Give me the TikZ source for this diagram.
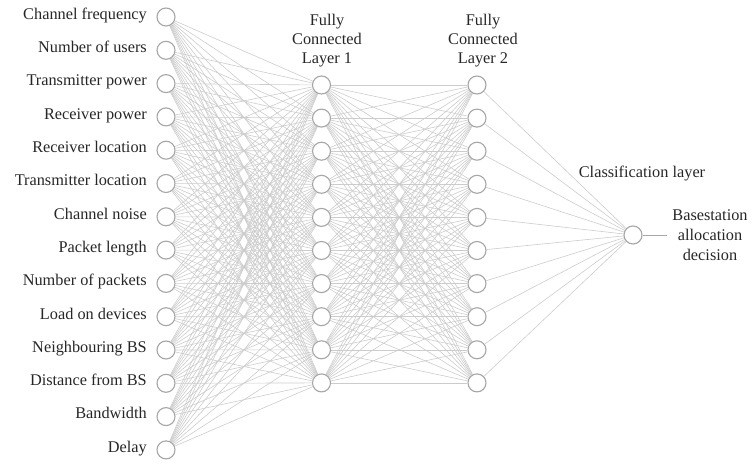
\documentclass[tikz,border=0pt]{standalone}
\usepackage{fontspec}
\setmainfont{Liberation Serif}
\pgfdeclarelayer{background}
\pgfsetlayers{background,main}
\begin{document}
\begin{tikzpicture}[x=1pt,y=-1pt,
  neuron/.style={circle,draw=gray!70,fill=white,minimum size=18pt,inner sep=0pt,line width=1.1pt},
  wire/.style={draw=gray!40,line width=0.6pt},
  lbl/.style={text=black!85,font=\fontsize{16.3}{19}\selectfont,inner sep=0pt}]
\useasboundingbox (0,0) rectangle (753,464);

% input layer with feature names
\foreach \t [count=\i] in {Channel frequency,Number of users,Transmitter power,Receiver power,Receiver location,Transmitter location,Channel noise,Packet length,Number of packets,Load on devices,Neighbouring BS,Distance from BS,Bandwidth,Delay}{
  \node[neuron] (in\i) at (166,{17+(\i-1)*33.3}) {};
  \node[lbl,anchor=mid east] (t\i) at (147,{17+(\i-1)*33.3}) {\t};
}

% two fully connected hidden layers
\foreach \j in {1,...,10}{
  \node[neuron] (h\j) at (321.5,{85+(\j-1)*33.1}) {};
  \node[neuron] (g\j) at (477,{85+(\j-1)*33.1}) {};
}

% classification output
\node[neuron] (out) at (633,235) {};
\coordinate (dec) at (667,235);

% connections, kept behind the neurons
\begin{pgfonlayer}{background}
\foreach \i in {1,...,14}{
  \foreach \j in {1,...,10}{
    \draw[wire] (in\i) -- (h\j);
  }
}
\foreach \i in {1,...,10}{
  \foreach \j in {1,...,10}{
    \draw[wire] (h\i) -- (g\j);
  }
  \draw[wire] (g\i) -- (out);
}
\end{pgfonlayer}
\draw[draw=gray!70,line width=0.8pt] (out) -- (dec);

% layer captions
\node[lbl,align=center] (cap1) at (327,41) {Fully\\Connected\\Layer 1};
\node[lbl,align=center] (cap2) at (483,41) {Fully\\Connected\\Layer 2};
\node[lbl] (cap3) at (642,174) {Classification layer};
\node[lbl,align=center,font=\fontsize{16.3}{20}\selectfont] (cap4) at (710,235) {Basestation\\allocation\\decision};
\end{tikzpicture}
\end{document}
